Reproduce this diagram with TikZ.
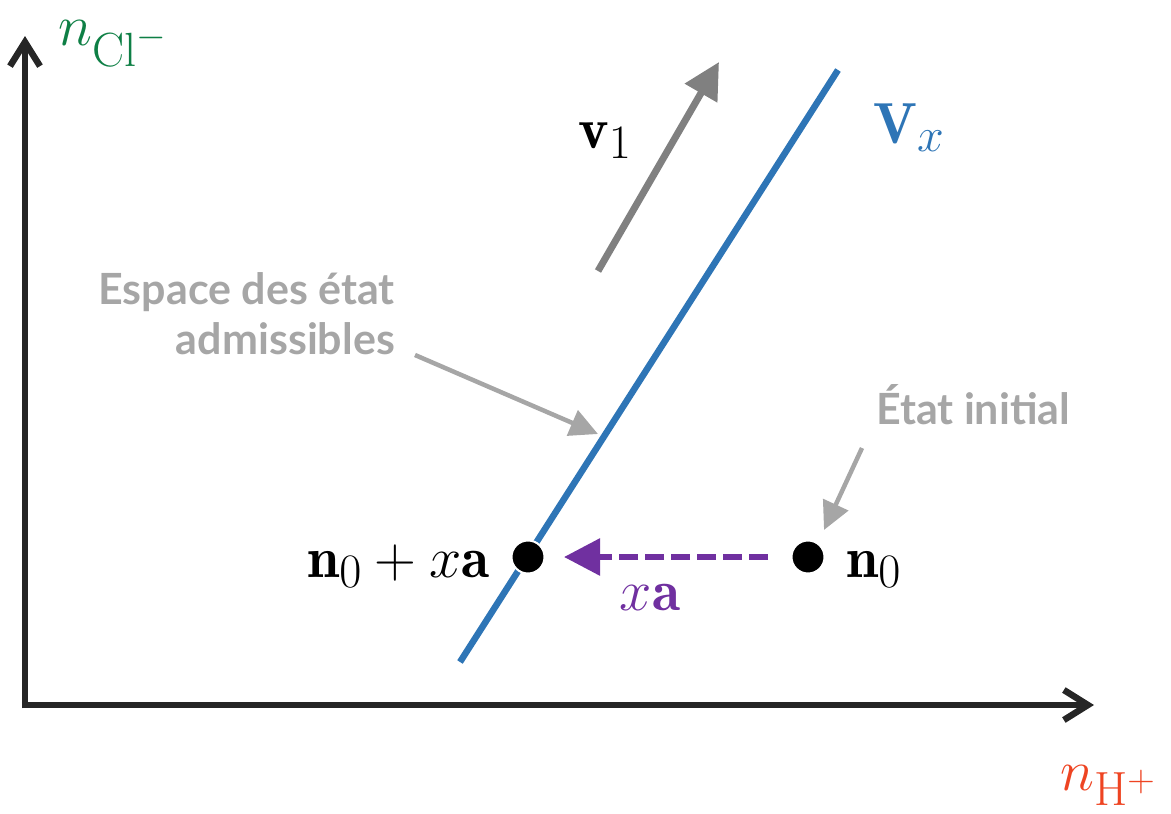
\RequirePackage{fix-cm}
\documentclass[tikz,border=0pt]{standalone}
\usepackage{fontspec}
\usetikzlibrary{arrows.meta}
\newfontfamily\lato{Lato}
\DeclareMathSizes{58}{58}{48}{38}
\definecolor{axisgray}{HTML}{262626}
\definecolor{vblue}{HTML}{2E75B6}
\definecolor{midgray}{HTML}{808080}
\definecolor{lightgray}{HTML}{A6A6A6}
\definecolor{cgreen}{HTML}{0E7F45}
\definecolor{hred}{HTML}{EE4422}
\definecolor{xpurple}{HTML}{7030A0}
\tikzset{
  axis/.style={line width=6.5pt, color=axisgray, -{Straight Barb[length=24pt,width=30pt]}},
  graytext/.style={text=lightgray, font=\lato\bfseries\fontsize{43}{50}\selectfont, align=right, inner sep=0pt},
  grayptr/.style={line width=4.5pt, color=lightgray, -{Triangle[length=28pt,width=27pt]}},
  mathlbl/.style={font=\fontsize{58}{60}\selectfont, inner sep=0pt},
  dot/.style={circle, fill=black, draw=white, line width=2pt, minimum size=33pt, inner sep=0pt},
}
\begin{document}
\begin{tikzpicture}[x=1pt,y=-1pt]
\useasboundingbox (0,0) rectangle (1171,814);
% axes
\coordinate (O) at (25,705);
\coordinate (ytip) at (25,36);
\coordinate (xtip) at (1094,705);
\draw[axis] (25,708.25) -- (ytip);
\draw[axis] (21.75,705) -- (xtip);
\node[mathlbl, anchor=base west, text=cgreen] (ylab) at (58,45) {$n_{\mathrm{Cl}^-}$};
\node[mathlbl, anchor=base west, text=hred] (xlab) at (1060,790) {$n_{\mathrm{H}^+}$};
% admissible line
\coordinate (L1) at (460,662);
\coordinate (L2) at (838,70);
\draw[line width=6.5pt, color=vblue] (L1) -- (L2);
\node[mathlbl, anchor=base west, text=vblue] (vx) at (873,143) {$\mathbf{V}_{x}$};
% v1 arrow
\coordinate (v1s) at (598,271);
\coordinate (v1e) at (719,62);
\draw[line width=7pt, color=midgray, -{Triangle[length=36pt,width=36pt]}] (v1s) -- (v1e);
\node[mathlbl, anchor=base west] (v1) at (578,148) {$\mathbf{v}_{1}$};
% labels in gray
\node[graytext, anchor=base east] (esp) at (395,354) {Espace des état\\admissibles};
\coordinate (espa) at (415,355);
\coordinate (espb) at (598,434);
\draw[grayptr] (espa) -- (espb);
\node[graytext, anchor=base west] (etat) at (876,424) {État initial};
\coordinate (eta) at (862,448);
\coordinate (etb) at (824,530);
\draw[grayptr] (eta) -- (etb);
% points
\node[dot] (p1) at (528,557) {};
\node[dot] (p0) at (808,557) {};
\node[mathlbl, anchor=base east] (l1) at (490,577) {$\mathbf{n}_0 + x\mathbf{a}$};
\node[mathlbl, anchor=base west] (l0) at (846,577) {$\mathbf{n}_0$};
% xa arrow
\coordinate (xas) at (768,557);
\coordinate (xae) at (564,557);
\draw[line width=6pt, color=xpurple, dash pattern=on 19pt off 7pt, -{Triangle[length=36pt,width=36pt]}] (xas) -- (xae);
\node[mathlbl, anchor=base, text=xpurple] (xa) at (650,610) {$x\mathbf{a}$};
\end{tikzpicture}
\end{document}
